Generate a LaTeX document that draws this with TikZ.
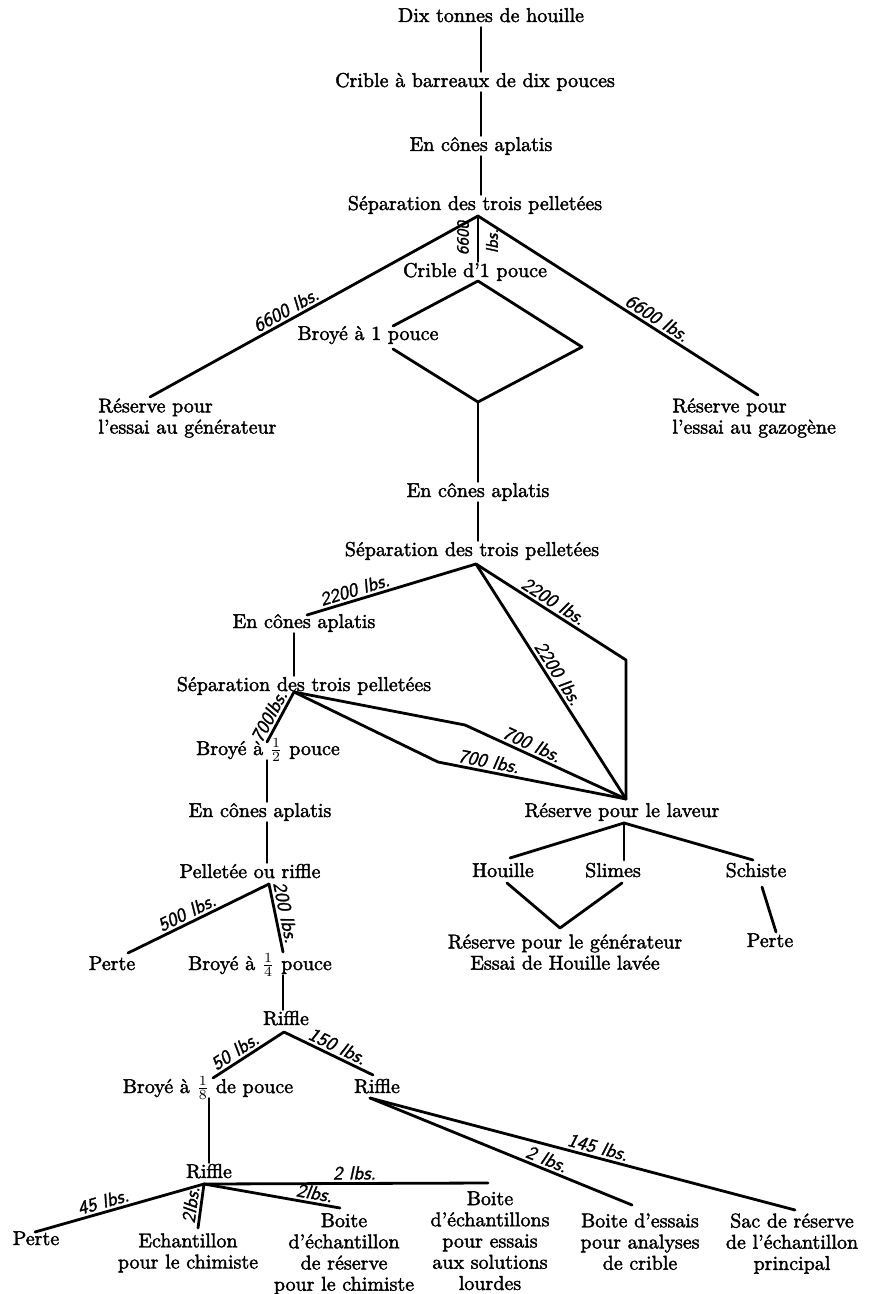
\documentclass[tikz,border=0pt]{standalone}
\usepackage{fontspec}
\setmainfont{lmroman10-regular.otf}[FakeBold=2]
\newfontfamily\lblfont{lmsans10-oblique.otf}[FakeBold=1.5]
\begin{document}
\begin{tikzpicture}[x=0.5pt,y=-0.5pt,
  line width=1.4pt, line join=round, line cap=round,
  every node/.style={inner sep=0pt},
  txt/.style={font=\fontsize{10}{10.6}\selectfont, text height=7pt, text depth=2pt},
  mtxt/.style={font=\fontsize{10}{10.6}\selectfont, align=center, anchor=north},
  lbl/.style={font=\fontsize{9.5}{10}\selectfont\lblfont, inner sep=1.2pt},
  vlbl/.style={font=\fontsize{8.5}{9}\selectfont\lblfont, rotate=90}]
\useasboundingbox (0,0) rectangle (892,1294);

% ---------- text nodes ----------
\node[txt] (n1) at (491,17) {Dix tonnes de houille};
\node[txt] (n2) at (475,82) {Crible à barreaux de dix pouces};
\node[txt] (n3) at (481,146) {En cônes aplatis};
\node[txt] (n4) at (475,205) {Séparation des trois pelletées};
\node[txt] (n5) at (475,272) {Crible d'1 pouce};
\node[txt] (n6) at (368,335) {Broyé à 1 pouce};
\node[mtxt,anchor=north west,align=left] (n7) at (97,397) {Réserve pour\\l'essai au générateur};
\node[mtxt,anchor=north west,align=left] (n8) at (671,397) {Réserve pour\\l'essai au gazogène};
\node[txt] (n9) at (478,492) {En cônes aplatis};
\node[txt] (n10) at (472,551) {Séparation des trois pelletées};
\node[txt] (n11) at (304,623) {En cônes aplatis};
\node[txt] (n12) at (304,686) {Séparation des trois pelletées};
\node[txt] (n13) at (268,750) {Broyé à $\frac{1}{2}$ pouce};
\node[txt] (n14) at (260,812) {En cônes aplatis};
\node[txt] (n15) at (250,873) {Pelletée ou riffle};
\node[txt] (n16) at (112,965) {Perte};
\node[txt] (n17) at (260,965) {Broyé à $\frac{1}{4}$ pouce};
\node[txt] (n18) at (286,1020) {Riffle};
\node[txt] (n19) at (208,1088) {Broyé à $\frac{1}{8}$ de pouce};
\node[txt] (n20) at (377,1088) {Riffle};
\node[txt] (n21) at (209,1173) {Riffle};
\node[txt] (n22) at (36,1240) {Perte};
\node[mtxt] (n23) at (188,1232) {Echantillon\\pour le chimiste};
\node[mtxt] (n24) at (344,1212) {Boite\\d'échantillon\\de réserve\\pour le chimiste};
\node[mtxt] (n25) at (490,1190) {Boite\\d'échantillons\\pour essais\\aux solutions\\lourdes};
\node[mtxt] (n26) at (640,1212) {Boite d'essais\\pour analyses\\de crible};
\node[mtxt] (n27) at (792,1212) {Sac de réserve\\de l'échantillon\\principal};
\node[txt] (n28) at (622,812) {Réserve pour le laveur};
\node[txt] (n29) at (503,872) {Houille};
\node[txt] (n30) at (613,872) {Slimes};
\node[txt] (n31) at (756,872) {Schiste};
\node[mtxt] (n32) at (565,933) {Réserve pour le générateur\\Essai de Houille lavée};
\node[txt] (n33) at (770,942) {Perte};

% ---------- junction points ----------
\coordinate (s1) at (478,216);
\coordinate (e7) at (150,397);
\coordinate (e8) at (758,395);
\coordinate (dT) at (478,281);
\coordinate (dL1) at (393,326);
\coordinate (dL2) at (393,349);
\coordinate (dR) at (582,347);
\coordinate (dB) at (478,402);
\coordinate (s2) at (476,564);
\coordinate (e11) at (307,615);
\coordinate (r1) at (626,660);
\coordinate (J) at (626,799);
\coordinate (s3) at (294,692);
\coordinate (e13) at (267,742);
\coordinate (U) at (465,725);
\coordinate (L) at (438,762);
\coordinate (s4) at (269,884);
\coordinate (e16) at (128,953);
\coordinate (e17) at (283,952);
\coordinate (s5) at (284,1032);
\coordinate (e19) at (213,1078);
\coordinate (e20) at (373,1075);
\coordinate (s6) at (370,1098);
\coordinate (e26) at (632,1205);
\coordinate (e27) at (795,1210);
\coordinate (v19) at (209,1100);
\coordinate (s7) at (204,1184);
\coordinate (e22) at (35,1232);
\coordinate (e23) at (198,1228);
\coordinate (e24) at (340,1208);
\coordinate (e25) at (488,1183);
\coordinate (s8) at (624,823);
\coordinate (e29) at (510,858);
\coordinate (e30) at (624,860);
\coordinate (e31) at (753,860);
\coordinate (h1) at (507,883);
\coordinate (V) at (560,928);
\coordinate (h2) at (622,883);
\coordinate (h3) at (762,887);
\coordinate (e33) at (776,932);

% ---------- connectors ----------
\draw (n1.south -| n3) -- (n2.north -| n3);
\draw (n2.south -| n3) -- (n3);
\draw (n3) -- (n4.north -| n3);
\draw (s1) -- (n5.north -| s1);
\node[vlbl] at (463,238) {6600};
\node[vlbl] at (492,241) {lbs.};
\draw (s1) -- node[lbl,sloped,above,pos=.57]{6600 lbs.} (e7);
\draw (s1) -- node[lbl,sloped,above,pos=.62]{6600 lbs.} (e8);
\draw (dL1) -- (dT) -- (dR) -- (dB) -- (dL2);
\draw (dB) -- (n9.north -| dB);
\draw (n9.south -| dB) -- (n10.north -| dB);
\draw (s2) -- node[lbl,sloped,above,pos=.70]{2200 lbs.} (e11);
\draw (s2) -- node[lbl,sloped,above,pos=.48]{2200 lbs.} (r1) -- (J);
\draw (s2) -- node[lbl,sloped,above,pos=.49]{2200 lbs.} (J);
\draw (n11.south -| s3) -- (n12.north -| s3);
\draw (s3) -- node[lbl,sloped,above,pos=.58]{700lbs.} (e13);
\draw (s3) -- (U) -- node[lbl,sloped,above,pos=.39]{700 lbs.} (J);
\draw (s3) -- (L) -- node[lbl,sloped,above,pos=.26]{700 lbs.} (J);
\draw (n13.south -| e13) -- (n14.north -| e13);
\draw (n14.south -| e13) -- (n15.north -| e13);
\draw (s4) -- node[lbl,sloped,above,pos=.55]{500 lbs.} (e16);
\draw (s4) -- node[lbl,sloped,above,pos=.45]{200 lbs.} (e17);
\draw (n17.south -| e17) -- (n18.north -| e17);
\draw (s5) -- node[lbl,sloped,above,pos=.61]{50 lbs.} (e19);
\draw (s5) -- node[lbl,sloped,above,pos=.55]{150 lbs.} (e20);
\draw (s6) -- node[lbl,sloped,above,pos=.66]{2 lbs.} (e26);
\draw (s6) -- node[lbl,sloped,above,pos=.53]{145 lbs.} (e27);
\draw (n19.south -| v19) -- (n21.north -| v19);
\draw (s7) -- node[lbl,sloped,above,pos=.58]{45 lbs.} (e22);
\draw (s7) -- node[lbl,sloped,above,pos=.5]{2lbs.} (e23);
\draw (s7) -- node[lbl,sloped,above,pos=.8]{2lbs.} (e24);
\draw (s7) -- node[lbl,sloped,above,pos=.53]{2 lbs.} (e25);
\draw (s8) -- (e29);
\draw (s8) -- (e30);
\draw (s8) -- (e31);
\draw (h1) -- (V) -- (h2);
\draw (h3) -- (e33);
\end{tikzpicture}
\end{document}
